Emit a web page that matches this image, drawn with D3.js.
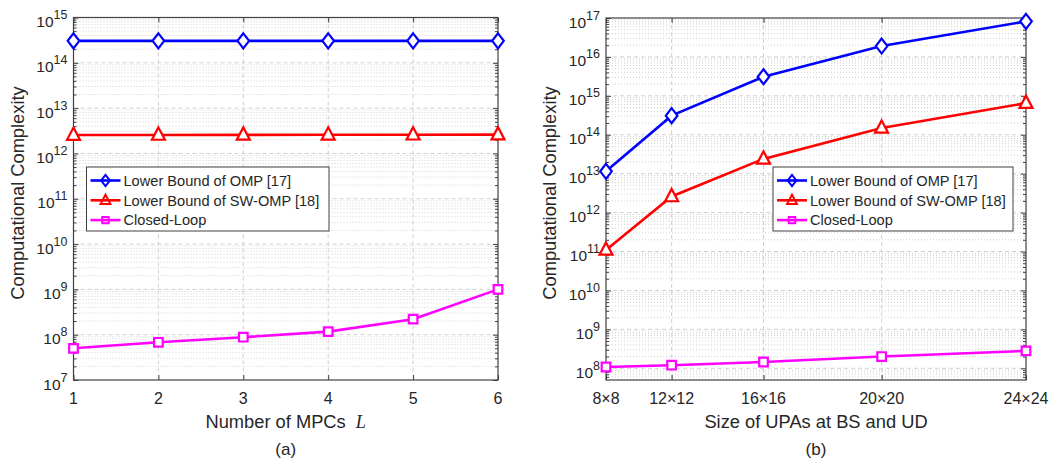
<!DOCTYPE html>
<html><head><meta charset="utf-8">
<script src="https://cdn.jsdelivr.net/npm/d3@7"></script>
<style>
html,body{margin:0;padding:0;background:#fff;}
svg text{font-family:"Liberation Sans",Arial,Helvetica,sans-serif;fill:#262626;}
</style></head>
<body><svg id="c" width="1057" height="460"></svg>
<script>
// ---- data: panel (a)
const mpcs = [1, 2, 3, 4, 5, 6];
const ompA = [3.05e14, 3.05e14, 3.05e14, 3.05e14, 3.05e14, 3.05e14];
const swompA = [2.55e12, 2.56e12, 2.57e12, 2.58e12, 2.59e12, 2.6e12];
const closedA = [5.0e7, 6.8e7, 8.8e7, 1.17e8, 2.2e8, 1.0e9];
// ---- data: panel (b)
const upaSizes = [8, 12, 16, 20, 24];
const upaLabels = ["8×8", "12×12", "16×16", "20×20", "24×24"];
const ompB = [1.15e13, 3.1e14, 3.1e15, 1.9e16, 8.2e16];
const swompB = [1.1e11, 2.6e12, 2.4e13, 1.5e14, 6.5e14];
const closedB = [1.08e8, 1.2e8, 1.45e8, 2.0e8, 2.8e8];
const seriesNames = ["Lower Bound of OMP [17]", "Lower Bound of SW-OMP [18]", "Closed-Loop"];
const yTicksA = [7, 8, 9, 10, 11, 12, 13, 14, 15];
const yTicksB = [8, 9, 10, 11, 12, 13, 14, 15, 16, 17];

const svg = d3.select("#c");
const colors = ["#0000ff", "#ff0000", "#ff00ff"];
const markers = ["diamond", "triangle", "square"];
const AX = "#404040";

function markerPath(type, s) {
  if (type === "diamond") return `M0,${-7.5*s}L${5.8*s},0L0,${7.5*s}L${-5.8*s},0Z`;
  if (type === "triangle") return `M0,${-7.5*s}L${6.5*s},${4.8*s}L${-6.5*s},${4.8*s}Z`;
  return `M${-4.3*s},${-4.3*s}H${4.3*s}V${4.3*s}H${-4.3*s}Z`;
}

function panel(opt) {
  const {x0, x1, y0, y1, xDomain, yDomain, xTicks, xTickFmt, yTicks, series, xLabel, sub, legend, ylabY} = opt;
  const g = svg.append("g");
  const x = d3.scaleLinear().domain(xDomain).range([x0, x1]);
  const y = d3.scaleLog().domain(yDomain).range([y1, y0]);
  const lo = Math.log10(yDomain[0]), hi = Math.log10(yDomain[1]);
  // minor grid
  const minor = [];
  for (let e = Math.floor(lo); e <= Math.ceil(hi); e++)
    for (let k = 2; k <= 9; k++) { const v = k * Math.pow(10, e); if (v > yDomain[0] * 1.0001 && v < yDomain[1] * 0.9999) minor.push(v); }
  g.append("g").selectAll("line").data(minor).join("line")
    .attr("x1", x0).attr("x2", x1).attr("y1", d => y(d)).attr("y2", d => y(d))
    .attr("stroke", "#d2d2d2").attr("stroke-width", 1).attr("stroke-dasharray", "1,2");
  // major grid
  const majors = yTicks.map(e => Math.pow(10, e));
  g.append("g").selectAll("line").data(majors.filter(v => v > yDomain[0] * 1.0001 && v < yDomain[1] * 0.9999)).join("line")
    .attr("x1", x0).attr("x2", x1).attr("y1", d => y(d)).attr("y2", d => y(d))
    .attr("stroke", "#d0d0d0").attr("stroke-width", 1).attr("stroke-dasharray", "4,3");
  g.append("g").selectAll("line").data(xTicks.slice(1, -1)).join("line")
    .attr("x1", d => x(d)).attr("x2", d => x(d)).attr("y1", y0).attr("y2", y1)
    .attr("stroke", "#d0d0d0").attr("stroke-width", 1).attr("stroke-dasharray", "4,3");
  // axes via d3 axis (inside ticks)
  const axL = d3.axisLeft(y).tickValues(majors).tickSize(-5).tickFormat("");
  const axR = d3.axisRight(y).tickValues(majors).tickSize(-5).tickFormat("");
  const axLm = d3.axisLeft(y).tickValues(minor).tickSize(-3).tickFormat("");
  const axRm = d3.axisRight(y).tickValues(minor).tickSize(-3).tickFormat("");
  const axB = d3.axisBottom(x).tickValues(xTicks).tickSize(-5).tickFormat("");
  const axT = d3.axisTop(x).tickValues(xTicks).tickSize(-5).tickFormat("");
  [[axL, `translate(${x0},0)`], [axLm, `translate(${x0},0)`], [axR, `translate(${x1},0)`], [axRm, `translate(${x1},0)`],
   [axB, `translate(0,${y1})`], [axT, `translate(0,${y0})`]].forEach(([a, t]) => {
    const ag = g.append("g").attr("transform", t).call(a);
    ag.selectAll("path.domain").remove();
    ag.selectAll("line").attr("stroke", AX).attr("stroke-width", 1);
  });
  g.append("rect").attr("x", x0).attr("y", y0).attr("width", x1 - x0).attr("height", y1 - y0)
    .attr("fill", "none").attr("stroke", AX).attr("stroke-width", 1.2);
  // y tick labels
  yTicks.forEach(e => {
    const t = g.append("text").attr("x", x0 - 6).attr("y", y(Math.pow(10, e)) + 9.5).attr("text-anchor", "end");
    t.append("tspan").attr("font-size", 15.5).text("10");
    t.append("tspan").attr("font-size", 12.5).attr("dy", -8).text(e);
  });
  // x tick labels
  g.append("g").selectAll("text").data(xTicks).join("text")
    .attr("x", d => x(d)).attr("y", 404).attr("text-anchor", "middle").attr("font-size", 16)
    .text((d, i) => xTickFmt(d, i));
  // lines and markers
  const line = d3.line().x(d => x(d[0])).y(d => y(d[1]));
  series.forEach((s, i) => {
    const pts = s.xs.map((v, j) => [v, s.ys[j]]);
    g.append("path").datum(pts).attr("d", line).attr("fill", "none").attr("stroke", colors[i]).attr("stroke-width", 2.6);
    g.append("g").selectAll("path").data(pts).join("path")
      .attr("transform", d => `translate(${x(d[0])},${y(d[1])})`)
      .attr("d", markerPath(markers[i], 1)).attr("fill", "#fff").attr("stroke", colors[i]).attr("stroke-width", 2.2);
  });
  // legend
  const L = legend;
  const lg = g.append("g");
  lg.append("rect").attr("x", L.x).attr("y", L.y).attr("width", L.w).attr("height", L.h)
    .attr("fill", "#fff").attr("stroke", AX).attr("stroke-width", 1);
  seriesNames.forEach((nm, i) => {
    const cy = L.y + 13.5 + i * 19.8;
    lg.append("line").attr("x1", L.x + 4).attr("x2", L.x + 34).attr("y1", cy).attr("y2", cy)
      .attr("stroke", colors[i]).attr("stroke-width", 2.6);
    lg.append("path").attr("transform", `translate(${L.x + 19},${cy})`).attr("d", markerPath(markers[i], 0.75))
      .attr("fill", "none").attr("stroke", colors[i]).attr("stroke-width", 2);
    lg.append("text").attr("x", L.x + 37).attr("y", cy + 5.3).attr("font-size", 14.6).text(nm);
  });
  // axis labels
  g.append("text").attr("x", 0).attr("y", 0)
    .attr("text-anchor", "middle").attr("font-size", 18.3).text("Computational Complexity")
    .attr("transform", `translate(${x0 - 50},${ylabY}) rotate(-90)`);
  const xl = g.append("text").attr("x", (x0 + x1) / 2).attr("y", 428).attr("text-anchor", "middle").attr("font-size", 18.3);
  xl.append("tspan").text(xLabel);
  if (opt.xLabelIt) xl.append("tspan").attr("font-family", "Liberation Serif, Times New Roman, serif").attr("font-style", "italic").text(opt.xLabelIt);
  g.append("text").attr("x", (x0 + x1) / 2).attr("y", 455).attr("text-anchor", "middle").attr("font-size", 17).text(sub);
}

panel({
  x0: 73.5, x1: 498, y0: 17.5, y1: 380,
  xDomain: [1, 6], yDomain: [1e7, 1e15],
  xTicks: mpcs, xTickFmt: d => d, yTicks: yTicksA,
  series: [{xs: mpcs, ys: ompA}, {xs: mpcs, ys: swompA}, {xs: mpcs, ys: closedA}],
  xLabel: "Number of MPCs\u00a0\u00a0", xLabelIt: "L", sub: "(a)",
  legend: {x: 86.5, y: 167, w: 242.5, h: 64}, ylabY: 193
});
panel({
  x0: 606, x1: 1026, y0: 18, y1: 380,
  xDomain: [64, 576], yDomain: [5e7, 1e17],
  xTicks: upaSizes.map(n => n * n), xTickFmt: (d, i) => upaLabels[i], yTicks: yTicksB,
  series: [{xs: upaSizes.map(n => n * n), ys: ompB}, {xs: upaSizes.map(n => n * n), ys: swompB}, {xs: upaSizes.map(n => n * n), ys: closedB}],
  xLabel: "Size of UPAs at BS and UD", sub: "(b)",
  legend: {x: 773, y: 167, w: 240, h: 64}, ylabY: 193
});
</script></body></html>
